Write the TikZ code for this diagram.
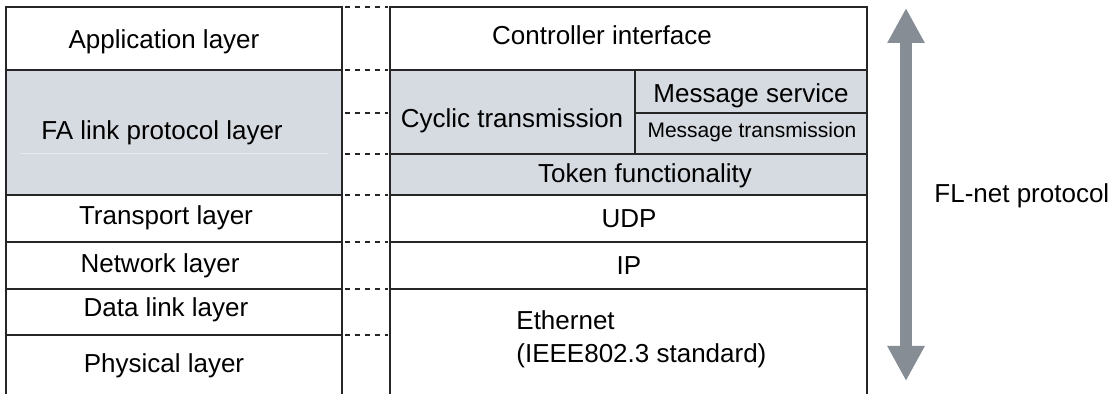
\documentclass[tikz,border=0pt]{standalone}
\usepackage{fontspec}
\setmainfont{Liberation Sans}
\usetikzlibrary{arrows.meta}
\definecolor{linkfill}{RGB}{214,218,225}
\definecolor{arrowgray}{RGB}{135,141,148}
\begin{document}
\begin{tikzpicture}[x=0.5pt, y=-0.5pt, font=\fontsize{13}{16.5}\selectfont,
    box/.style={draw=black!85, line width=0.65pt},
    link/.style={black!85, line width=0.65pt, dash pattern=on 2.5pt off 2.5pt},
    lbl/.style={anchor=base, inner sep=0pt},
    small/.style={font=\fontsize{10.5}{13}\selectfont}]
        \useasboundingbox (0,0) rectangle (1117,394);
        % FA link protocol shading
        \fill[linkfill] (6,70) rectangle (342,195);
        \fill[linkfill] (390,70) rectangle (867,195);
        \draw[white!40!linkfill, line width=0.3pt] (20,153) -- (328,153);
        % OSI stack
        \draw[box] (6,394) -- (6,7) -- (342,7) -- (342,394);
        \foreach \y in {70,195,242,289,335}
            \draw[box] (6,\y) -- (342,\y);
        % FL-net stack
        \draw[box] (390,394) -- (390,7) -- (867,7) -- (867,394);
        \foreach \y in {70,154,195,242,289}
            \draw[box] (390,\y) -- (867,\y);
        \draw[box] (635,70) -- (635,154);
        \draw[box] (635,113) -- (867,113);
        % Correspondence
        \foreach \y in {7,70,113,154,195,242,289,335}
            \draw[link] (345,\y) -- (388,\y);
        % OSI layers
        \node[lbl] (app) at (164,49) {Application layer};
        \node[lbl] (falink) at (162,140) {FA link protocol layer};
        \node[lbl] (transport) at (166,225) {Transport layer};
        \node[lbl] (network) at (160,273) {Network layer};
        \node[lbl] (datalink) at (166,317) {Data link layer};
        \node[lbl] (physical) at (164,373) {Physical layer};
        % FL-net layers
        \node[lbl] (ctrl) at (602,45) {Controller interface};
        \node[lbl] (cyclic) at (512,128) {Cyclic transmission};
        \node[lbl] (msgsrv) at (751,103) {Message service};
        \node[lbl, small] (msgtx) at (752,138) {Message transmission};
        \node[lbl] (token) at (645,183) {Token functionality};
        \node[lbl] (udp) at (629,228) {UDP};
        \node[lbl] (ip) at (629,275) {IP};
        \node[lbl, anchor=base west] (eth) at (516,330) {Ethernet};
        \node[lbl, anchor=base west] (ieee) at (516,363) {(IEEE802.3 standard)};
        % Protocol range
        \coordinate (rtop) at (906,8);
        \coordinate (rbot) at (906,381);
        \draw[arrowgray, line width=6pt,
            {Triangle[length=17.5pt, width=17.5pt]}-{Triangle[length=17.5pt, width=17.5pt]}]
            (rtop) -- (rbot);
        \node[lbl, anchor=base west] (flnet) at (934,203) {FL-net protocol};
    \end{tikzpicture}
\end{document}
